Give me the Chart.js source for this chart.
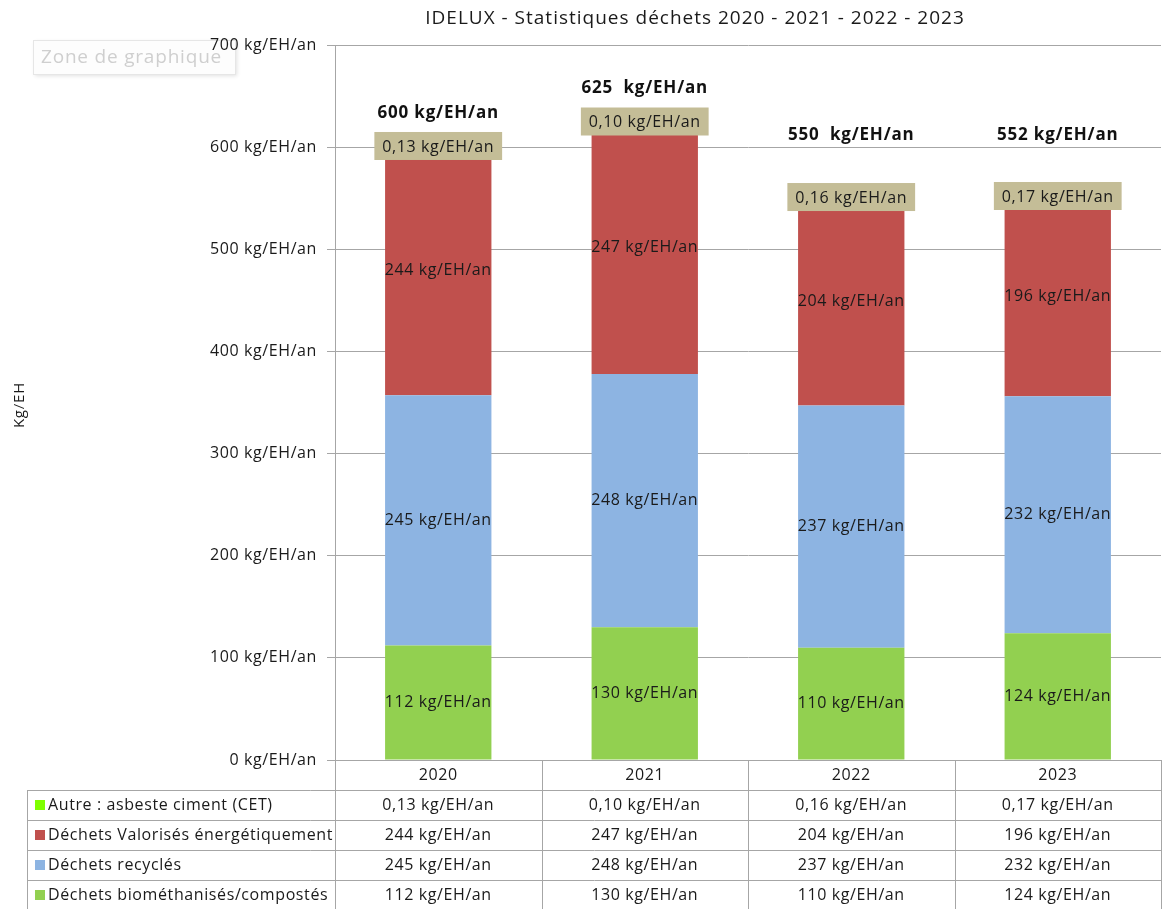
<!DOCTYPE html>
<html><head><meta charset="utf-8">
<script src="https://cdn.jsdelivr.net/npm/chart.js@4.4.0/dist/chart.umd.min.js"></script>
<style>html,body{margin:0;padding:0;background:#fff}#wrap{width:1170px;height:909px;position:relative}</style>
</head><body><div id="wrap"><canvas id="c"></canvas></div>
<script>
const categories = ['2020', '2021', '2022', '2023'];
const seriesNames = ['Déchets biométhanisés/compostés', 'Déchets recyclés', 'Déchets Valorisés énergétiquement', 'Autre : asbeste ciment (CET)'];
const biomethanises = [112, 130, 110, 124];
const recycles = [245, 248, 237, 232];
const valorises = [244, 247, 204, 196];
const autre = [0.13, 0.10, 0.16, 0.17];
const totalLabels = ['600 kg/EH/an', '625  kg/EH/an', '550  kg/EH/an', '552 kg/EH/an'];
const yTickValues = [0, 100, 200, 300, 400, 500, 600, 700];
const titleText = 'IDELUX - Statistiques déchets 2020 - 2021 - 2022 - 2023';
const yTitle = 'Kg/EH';

const colors = ['#92D050', '#8DB4E2', '#C0504D', '#7FFF00'];
const FONT = '"Open Sans", "Liberation Sans", sans-serif';
const fmt = v => (v < 1 ? v.toFixed(2).replace('.', ',') : String(v)) + ' kg/EH/an';

const seriesData = [biomethanises, recycles, valorises, autre];

const overlay = {
  id: 'overlay',
  beforeDraw(chart) {
    const ctx = chart.ctx;
    ctx.letterSpacing = '0.6px';
    ctx.save();
    // Excel "Zone de graphique" hover box
    ctx.shadowColor = 'rgba(0,0,0,0.12)';
    ctx.shadowBlur = 4; ctx.shadowOffsetX = 2; ctx.shadowOffsetY = 2;
    ctx.fillStyle = '#fdfdfd';
    ctx.fillRect(33, 40, 202, 34);
    ctx.shadowColor = 'transparent';
    ctx.strokeStyle = '#e6e6e6'; ctx.lineWidth = 1;
    ctx.strokeRect(33.5, 40.5, 202, 34);
    ctx.fillStyle = '#cfcfcf';
    ctx.letterSpacing = '0.8px';
    ctx.font = '19px ' + FONT;
    ctx.textBaseline = 'middle'; ctx.textAlign = 'left';
    ctx.fillText('Zone de graphique', 41, 58);
    ctx.restore();
  },
  afterDatasetsDraw(chart) {
    const ctx = chart.ctx;
    const ys = chart.scales.y;
    ctx.save();
    ctx.letterSpacing = '0.6px';
    ctx.textAlign = 'center'; ctx.textBaseline = 'middle';
    for (let d = 0; d < 3; d++) {
      const meta = chart.getDatasetMeta(d);
      meta.data.forEach((el, i) => {
        ctx.font = '16px ' + FONT;
        ctx.fillStyle = '#1a1a1a';
        ctx.fillText(fmt(seriesData[d][i]), el.x, (el.y + el.base) / 2);
      });
    }
    const meta3 = chart.getDatasetMeta(3);
    meta3.data.forEach((el, i) => {
      const t = fmt(autre[i]);
      ctx.letterSpacing = '0.6px';
      ctx.font = '16px ' + FONT;
      const w = ctx.measureText(t).width + 16;
      const h = 28;
      ctx.fillStyle = '#C4BD97';
      ctx.fillRect(el.x - w / 2, el.y - h / 2, w, h);
      ctx.fillStyle = '#1a1a1a';
      ctx.fillText(t, el.x, el.y + 1);
      ctx.letterSpacing = '0.8px';
      ctx.font = 'bold 17px ' + FONT;
      ctx.fillStyle = '#111';
      const ty = Math.min(el.y - 33, ys.getPixelForValue(612));
      ctx.fillText(totalLabels[i], el.x, ty);
    });
    ctx.restore();
  },
  afterDraw(chart) {
    const ctx = chart.ctx;
    const ca = chart.chartArea;
    const xs = chart.scales.x;
    ctx.save();
    ctx.letterSpacing = '1px';
    ctx.font = '19px ' + FONT;
    ctx.fillStyle = '#1a1a1a';
    ctx.textAlign = 'center'; ctx.textBaseline = 'middle';
    ctx.fillText(titleText, 695, 19);
    ctx.save();
    ctx.translate(20, 405);
    ctx.rotate(-Math.PI / 2);
    ctx.letterSpacing = '0.8px';
    ctx.font = '15px ' + FONT;
    ctx.fillText(yTitle, 0, 0);
    ctx.restore();
    const n = categories.length;
    const cw = (ca.right - ca.left) / n;
    const top = ca.bottom, rowH = 30, left = 27, bottom = 909;
    ctx.strokeStyle = '#a6a6a6'; ctx.lineWidth = 1;
    ctx.beginPath();
    for (let i = 0; i <= n; i++) {
      const x = Math.round(ca.left + i * cw) + 0.5;
      ctx.moveTo(x, top); ctx.lineTo(x, bottom);
    }
    ctx.moveTo(left + 0.5, top + rowH); ctx.lineTo(left + 0.5, bottom);
    for (let r = 1; r <= 4; r++) {
      const y = Math.round(top + r * rowH) + 0.5;
      ctx.moveTo(left, y); ctx.lineTo(ca.right + 1, y);
    }
    ctx.stroke();
    ctx.letterSpacing = '0.6px';
    ctx.font = '16px ' + FONT;
    ctx.fillStyle = '#1a1a1a';
    categories.forEach((c, i) => ctx.fillText(c, xs.getPixelForValue(i), top + rowH / 2));
    const order = [3, 2, 1, 0];
    order.forEach((d, r) => {
      const yc = top + rowH * (r + 1) + rowH / 2;
      ctx.fillStyle = colors[d];
      ctx.fillRect(35, yc - 5, 10, 10);
      ctx.fillStyle = '#1a1a1a';
      ctx.textAlign = 'left';
      ctx.fillText(seriesNames[d], 48, yc);
      ctx.textAlign = 'center';
      seriesData[d].forEach((v, i) => ctx.fillText(fmt(v), xs.getPixelForValue(i), yc));
    });
    ctx.restore();
  }
};

new Chart(document.getElementById('c'), {
  type: 'bar',
  data: {
    labels: categories,
    datasets: seriesData.map((arr, d) => ({
      label: seriesNames[d],
      data: arr,
      backgroundColor: colors[d],
      borderWidth: 0,
      barPercentage: 0.515,
      categoryPercentage: 1
    }))
  },
  options: {
    responsive: true,
    maintainAspectRatio: false,
    animation: false,
    devicePixelRatio: 1,
    layout: { padding: { top: 45, right: 9, bottom: 149, left: 0 } },
    plugins: { legend: { display: false }, title: { display: false }, tooltip: { enabled: false } },
    scales: {
      x: { stacked: true, display: false },
      y: {
        stacked: true,
        min: 0, max: 700,
        afterBuildTicks: s => { s.ticks = yTickValues.map(v => ({ value: v })); },
        afterFit: s => { s.width = 335; },
        grid: { color: '#a6a6a6', tickLength: 8, lineWidth: 1 },
        border: { color: '#a6a6a6' },
        ticks: {
          padding: 10,
          color: '#1a1a1a',
          font: { family: FONT, size: 16 },
          callback: v => v + ' kg/EH/an'
        }
      }
    }
  },
  plugins: [overlay]
});
</script>
</body></html>
